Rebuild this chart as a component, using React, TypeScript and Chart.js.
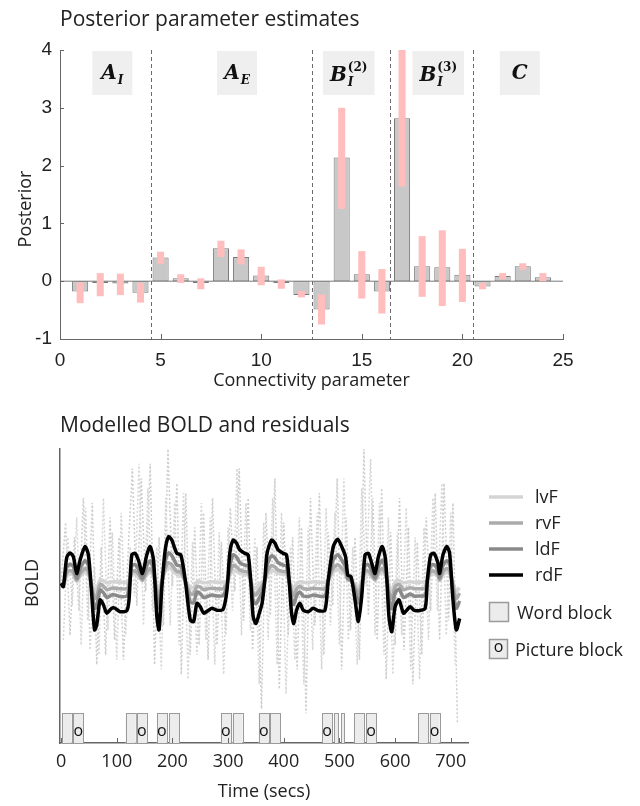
import React, { useEffect, useRef } from "react";
import { Chart, registerables } from "chart.js";

Chart.register(...registerables);

// ---------------- Top panel: posterior parameter estimates ----------------
const paramIndex = [1, 2, 3, 4, 5, 6, 7, 8, 9, 10, 11, 12, 13, 14, 15, 16, 17, 18, 19, 20, 21, 22, 23, 24];
const posteriorMean = [-0.18, -0.03, -0.04, -0.2, 0.41, 0.05, -0.03, 0.57, 0.42, 0.1, -0.03, -0.24, -0.49, 2.14, 0.12, -0.18, 2.82, 0.26, 0.24, 0.11, -0.09, 0.09, 0.26, 0.07];
const ciLow = [-0.38, -0.26, -0.24, -0.37, 0.3, -0.03, -0.14, 0.42, 0.29, -0.07, -0.13, -0.28, -0.75, 1.25, -0.3, -0.56, 1.64, -0.27, -0.43, -0.36, -0.14, 0.03, 0.2, 0.0];
const ciHigh = [-0.02, 0.14, 0.13, -0.03, 0.51, 0.12, 0.05, 0.7, 0.55, 0.25, 0.03, -0.17, -0.23, 3.0, 0.52, 0.21, 4.2, 0.78, 0.88, 0.56, -0.03, 0.14, 0.31, 0.14];
const groupBoundaries = [4.5, 12.5, 16.4, 20.55];
const groupCenter = [2.6, 8.8, 14.35, 18.8, 22.85];
const groupBase = ["A", "A", "B", "B", "C"];
const groupSub = ["I", "E", "I", "I", ""];
const groupSup = ["", "", "(2)", "(3)", ""];
const paramAxisRange = [0, 25];
const posteriorAxisRange = [-1, 4];

// ---------------- Bottom panel: modelled BOLD and residuals ----------------
const boldTime = [0, 4, 10, 16, 22, 28, 34, 43, 49, 54, 60, 64, 70, 76, 82, 91, 97, 106, 118, 122, 127, 133, 139, 146, 154, 160, 166, 172, 176, 181, 187, 193, 199, 203, 208, 215, 223, 232, 238, 244, 250, 256, 265, 271, 280, 291, 298, 303, 309, 315, 321, 330, 336, 341, 345, 350, 356, 361, 366, 370, 378, 384, 390, 399, 405, 410, 414, 418, 423, 429, 435, 444, 453, 462, 474, 480, 489, 497, 504, 511, 515, 521, 528, 534, 540, 546, 552, 558, 564, 570, 577, 583, 589, 594, 600, 607, 615, 621, 627, 634, 642, 654, 658, 664, 670, 677, 680, 686, 693, 698, 704, 710, 716];
const rdF = [0.26, 0.19, 0.78, 0.88, 0.8, 0.46, 0.73, 1.01, 0.84, 0.19, -0.69, -0.59, -0.08, -0.18, -0.35, -0.25, -0.25, -0.32, -0.3, -0.08, 0.84, 0.87, 0.73, 0.46, 0.84, 1.01, 0.73, -0.42, -0.69, 0.19, 0.94, 1.21, 1.14, 1.01, 0.87, 0.84, 0.33, -0.49, -0.52, -0.15, -0.22, -0.35, -0.29, -0.25, -0.29, -0.27, 0.12, 0.87, 1.14, 1.08, 0.94, 0.87, 0.84, 0.26, -0.42, -0.56, -0.35, -0.15, 0.33, 0.87, 1.14, 1.08, 0.94, 0.87, 0.84, 0.26, -0.35, -0.56, -0.29, -0.15, -0.29, -0.32, -0.25, -0.3, -0.29, 0.33, 1.01, 1.16, 1.01, 0.8, 0.43, 0.39, -0.08, -0.52, -0.01, 0.84, 0.87, 0.67, 0.46, 0.8, 1.01, 0.73, -0.42, -0.73, -0.22, -0.08, -0.35, -0.29, -0.22, -0.29, -0.3, -0.25, 0.33, 0.84, 0.87, 0.67, 0.46, 0.84, 1.01, 0.87, -0.08, -0.69, -0.46];
const ldF = [0.26, 0.2, 0.58, 0.65, 0.6, 0.36, 0.55, 0.72, 0.62, 0.22, -0.25, -0.2, 0.12, 0.07, -0.03, 0.02, 0.02, -0.01, 0.0, 0.14, 0.62, 0.64, 0.55, 0.36, 0.62, 0.72, 0.55, -0.05, -0.24, 0.25, 0.7, 0.88, 0.82, 0.74, 0.63, 0.61, 0.3, -0.12, -0.14, 0.08, 0.05, -0.03, 0.0, 0.02, 0.0, 0.01, 0.22, 0.6, 0.84, 0.8, 0.68, 0.63, 0.61, 0.27, -0.09, -0.16, -0.04, 0.08, 0.32, 0.62, 0.82, 0.78, 0.68, 0.63, 0.61, 0.27, -0.05, -0.17, 0.0, 0.08, 0.0, -0.01, 0.02, 0.0, 0.0, 0.32, 0.74, 0.84, 0.74, 0.59, 0.36, 0.33, 0.1, -0.14, 0.17, 0.62, 0.64, 0.52, 0.37, 0.6, 0.73, 0.55, -0.06, -0.26, 0.06, 0.14, -0.03, 0.0, 0.04, 0.0, 0.0, 0.02, 0.32, 0.62, 0.64, 0.52, 0.37, 0.62, 0.72, 0.64, 0.12, -0.25, -0.1];
const rvF = [0.26, 0.22, 0.48, 0.52, 0.48, 0.32, 0.45, 0.56, 0.5, 0.24, -0.05, 0.0, 0.24, 0.2, 0.13, 0.16, 0.16, 0.15, 0.15, 0.24, 0.5, 0.51, 0.45, 0.32, 0.49, 0.56, 0.45, 0.1, -0.03, 0.3, 0.56, 0.68, 0.63, 0.57, 0.5, 0.49, 0.3, 0.05, 0.04, 0.2, 0.18, 0.13, 0.15, 0.16, 0.15, 0.15, 0.26, 0.48, 0.62, 0.6, 0.53, 0.5, 0.49, 0.28, 0.07, 0.02, 0.12, 0.2, 0.32, 0.49, 0.62, 0.59, 0.53, 0.5, 0.49, 0.28, 0.1, 0.01, 0.14, 0.2, 0.15, 0.14, 0.16, 0.15, 0.15, 0.32, 0.57, 0.64, 0.57, 0.48, 0.33, 0.31, 0.18, 0.04, 0.25, 0.5, 0.51, 0.43, 0.33, 0.48, 0.56, 0.45, 0.09, -0.05, 0.19, 0.24, 0.13, 0.15, 0.17, 0.15, 0.15, 0.16, 0.32, 0.5, 0.51, 0.43, 0.33, 0.49, 0.56, 0.51, 0.22, -0.05, 0.06];
const lvF = [0.26, 0.24, 0.42, 0.46, 0.43, 0.3, 0.4, 0.49, 0.44, 0.25, 0.1, 0.14, 0.33, 0.31, 0.27, 0.29, 0.29, 0.28, 0.28, 0.32, 0.44, 0.45, 0.41, 0.31, 0.43, 0.48, 0.41, 0.22, 0.12, 0.33, 0.5, 0.58, 0.54, 0.49, 0.44, 0.43, 0.31, 0.18, 0.17, 0.29, 0.29, 0.27, 0.28, 0.29, 0.28, 0.28, 0.31, 0.42, 0.52, 0.5, 0.46, 0.44, 0.43, 0.3, 0.19, 0.16, 0.24, 0.29, 0.33, 0.43, 0.52, 0.5, 0.46, 0.44, 0.43, 0.3, 0.21, 0.15, 0.25, 0.29, 0.28, 0.27, 0.29, 0.28, 0.28, 0.33, 0.49, 0.54, 0.49, 0.43, 0.33, 0.32, 0.25, 0.17, 0.31, 0.44, 0.45, 0.4, 0.32, 0.43, 0.48, 0.41, 0.21, 0.11, 0.29, 0.32, 0.27, 0.28, 0.29, 0.28, 0.28, 0.29, 0.33, 0.44, 0.45, 0.4, 0.32, 0.43, 0.48, 0.45, 0.28, 0.1, 0.17];

const residualTimeA = [0, 8, 16, 24, 32, 40, 48, 56, 64, 72, 80, 88, 96, 104, 112, 120, 128, 136, 144, 152, 160, 168, 176, 184, 192, 200, 208, 216, 224, 232, 240, 248, 256, 264, 272, 280, 288, 296, 304, 312, 320, 328, 336, 344, 352, 360, 368, 376, 384, 392, 400, 408, 416, 424, 432, 440, 448, 456, 464, 472, 480, 488, 496, 504, 512, 520, 528, 536, 544, 552, 560, 568, 576, 584, 592, 600, 608, 616, 624, 632, 640, 648, 656, 664, 672, 680, 688, 696, 704, 712];
const residualA = [0.3, 1.5, -0.8, 1.2, -0.3, 2.0, -0.5, 1.9, -1.4, 1.0, -1.2, 1.6, -0.9, 1.2, -1.3, 0.8, 2.6, -0.2, 2.4, 0.1, 2.7, -1.4, 1.2, -0.6, 3.0, 0.2, 2.3, -1.6, 2.1, -1.2, 1.4, -1.0, 1.7, -1.3, 2.0, -1.0, 1.1, -0.8, 1.8, 0.1, 2.6, -0.5, 2.0, -1.1, 1.0, -2.3, 1.7, -0.4, 2.4, -1.9, 1.5, -0.8, 1.2, -1.5, 1.4, -2.4, 2.0, -0.6, 2.1, -1.2, 1.3, -0.2, 2.4, -1.5, 1.6, -0.7, 1.2, -1.3, 3.0, -0.4, 2.0, -0.9, 2.2, -1.7, 1.3, -1.0, 2.0, -1.1, 1.4, -1.8, 1.1, -1.2, 1.6, -0.3, 2.1, -0.9, 2.3, -0.5, 1.9, -2.6];
const residualTimeB = [4, 12, 20, 28, 36, 44, 52, 60, 68, 76, 84, 92, 100, 108, 116, 124, 132, 140, 148, 156, 164, 172, 180, 188, 196, 204, 212, 220, 228, 236, 244, 252, 260, 268, 276, 284, 292, 300, 308, 316, 324, 332, 340, 348, 356, 364, 372, 380, 388, 396, 404, 412, 420, 428, 436, 444, 452, 460, 468, 476, 484, 492, 500, 508, 516, 524, 532, 540, 548, 556, 564, 572, 580, 588, 596, 604, 612, 620, 628, 636, 644, 652, 660, 668, 676, 684, 692, 700, 708];
const residualB = [-0.9, 1.2, -0.2, 1.6, -1.0, 1.8, -1.1, 0.6, -1.2, 2.0, -0.7, 1.3, -1.3, 1.7, -0.8, 1.0, 0.0, 2.7, -0.6, 2.2, -0.3, 1.0, -1.5, 2.0, -0.6, 1.9, -1.0, 2.1, -1.7, 1.1, -1.2, 1.9, -0.9, 1.6, -1.4, 1.3, -1.6, 1.4, -0.3, 2.6, -0.8, 1.9, -0.7, 1.2, -1.8, 1.5, -0.9, 2.0, -1.4, 1.7, -2.0, 1.0, -1.3, 1.6, -1.8, 1.4, -1.1, 1.7, -1.5, 1.8, -0.6, 1.7, -1.0, 2.4, -0.9, 1.0, -1.4, 2.2, 0.2, 2.8, -0.8, 1.9, -1.2, 1.6, -1.6, 1.3, -0.8, 1.8, -1.5, 1.2, -1.7, 1.4, -0.9, 2.0, -0.3, 2.3, -0.8, 1.7, -1.4];

const blockStart = [1, 22, 116, 136, 172, 194, 287, 308, 355, 376, 469, 491, 503, 526, 548, 641, 662];
const blockEnd = [19, 40, 134, 154, 190, 212, 305, 326, 373, 394, 487, 499, 509, 544, 566, 659, 680];
const blockKind = ["word", "picture", "word", "picture", "picture", "word", "picture", "word", "picture", "word", "picture", "word", "word", "word", "picture", "word", "picture"];
const timeTicks = [0, 100, 200, 300, 400, 500, 600, 700];
const timeAxisRange = [-2, 731];
const boldAxisRange = [-3, 3];
const regionNames = ["lvF", "rvF", "ldF", "rdF"];

// ---------------- Styling ----------------
const SANS = '"Open Sans", "Noto Sans", sans-serif';
const ARIAL = '"Liberation Sans", Arial, sans-serif';
const TEXT = "#222222";
const AXIS = "#666666";
const regionColors = ["#d4d4d4", "#ababab", "#8a8a8a", "#000000"];
const regionWidths = [3.5, 3.5, 3.5, 3.5];

function drawMathLabel(ctx: CanvasRenderingContext2D, cx: number, cy: number, base: string, sub: string, sup: string) {
  const baseFont = 'bold italic 20px "DejaVu Serif", serif';
  const smallFont = 'bold italic 12px "DejaVu Serif", serif';
  const supFont = 'bold 12px "DejaVu Serif", serif';
  ctx.font = baseFont;
  const wb = ctx.measureText(base).width;
  ctx.font = smallFont;
  const ws = sub ? ctx.measureText(sub).width : 0;
  ctx.font = supFont;
  const wp = sup ? ctx.measureText(sup).width : 0;
  const total = wb + Math.max(ws, wp) + (sub || sup ? 1 : 0);
  const boxW = Math.max(40, total + 14);
  ctx.fillStyle = "#efefef";
  ctx.fillRect(cx - boxW / 2, cy - 22, boxW, 44);
  const x0 = cx - total / 2;
  const baseLine = sup ? cy + 8 : cy + 6;
  ctx.fillStyle = "#111";
  ctx.textAlign = "left";
  ctx.textBaseline = "alphabetic";
  ctx.font = baseFont;
  ctx.fillText(base, x0, baseLine);
  if (sub) {
    ctx.font = smallFont;
    ctx.fillText(sub, x0 + wb + 1, baseLine + 5);
  }
  if (sup) {
    ctx.font = supFont;
    ctx.fillText(sup, x0 + wb + 1, baseLine - 10);
  }
}

const topPanelPlugin = {
  id: "topPanel",
  afterDatasetsDraw(chart: any) {
    const { ctx, chartArea, scales } = chart;
    const xs = scales.x;
    ctx.save();
    ctx.strokeStyle = "#6a6a6a";
    ctx.lineWidth = 1;
    ctx.setLineDash([4, 3]);
    groupBoundaries.forEach((b) => {
      const px = Math.round(xs.getPixelForValue(b)) + 0.5;
      ctx.beginPath();
      ctx.moveTo(px, chartArea.top);
      ctx.lineTo(px, chartArea.bottom);
      ctx.stroke();
    });
    ctx.setLineDash([]);
    groupCenter.forEach((c, i) => {
      drawMathLabel(ctx, xs.getPixelForValue(c), chartArea.top + 23, groupBase[i], groupSub[i], groupSup[i]);
    });
    ctx.restore();
  },
  afterDraw(chart: any) {
    const { ctx, chartArea, scales } = chart;
    const xs = scales.x;
    const ys = scales.y;
    ctx.save();
    ctx.strokeStyle = AXIS;
    ctx.lineWidth = 1;
    ys.ticks.forEach((t: any) => {
      const py = Math.round(ys.getPixelForValue(t.value)) + 0.5;
      ctx.beginPath();
      ctx.moveTo(chartArea.left, py);
      ctx.lineTo(chartArea.left + 4, py);
      ctx.stroke();
    });
    xs.ticks.forEach((t: any) => {
      const px = Math.round(xs.getPixelForValue(t.value)) + 0.5;
      ctx.beginPath();
      ctx.moveTo(px, chartArea.bottom);
      ctx.lineTo(px, chartArea.bottom - 5);
      ctx.stroke();
    });
    ctx.fillStyle = TEXT;
    ctx.font = `21px ${SANS}`;
    ctx.textAlign = "left";
    ctx.textBaseline = "alphabetic";
    ctx.fillText("Posterior parameter estimates", 60, 26);
    ctx.font = `18px ${SANS}`;
    ctx.textAlign = "center";
    ctx.textBaseline = "middle";
    ctx.fillText("Connectivity parameter", (chartArea.left + chartArea.right) / 2, 381);
    ctx.translate(26, 209);
    ctx.rotate(-Math.PI / 2);
    ctx.fillText("Posterior", 0, 0);
    ctx.restore();
  },
};

const boldPanelPlugin = {
  id: "boldPanel",
  afterDatasetsDraw(chart: any) {
    const { ctx, chartArea, scales } = chart;
    const xs = scales.x;
    ctx.save();
    const top = chartArea.bottom - 30;
    blockStart.forEach((s, i) => {
      const x1 = xs.getPixelForValue(s);
      const x2 = xs.getPixelForValue(blockEnd[i]);
      ctx.fillStyle = "#ececec";
      ctx.fillRect(x1, top, x2 - x1, 30);
      ctx.strokeStyle = "#9a9a9a";
      ctx.lineWidth = 1;
      ctx.strokeRect(Math.round(x1) + 0.5, Math.round(top) + 0.5, Math.round(x2 - x1), 30);
      if (blockKind[i] === "picture") {
        ctx.fillStyle = "#111";
        ctx.font = `16px ${SANS}`;
        ctx.textAlign = "center";
        ctx.textBaseline = "middle";
        ctx.fillText("o", (x1 + x2) / 2, top + 18);
      }
    });
    ctx.restore();
  },
  afterDraw(chart: any) {
    const { ctx, chartArea, scales } = chart;
    const xs = scales.x;
    ctx.save();
    ctx.strokeStyle = AXIS;
    ctx.lineWidth = 1;
    xs.ticks.forEach((t: any) => {
      const px = Math.round(xs.getPixelForValue(t.value)) + 0.5;
      ctx.beginPath();
      ctx.moveTo(px, chartArea.bottom);
      ctx.lineTo(px, chartArea.bottom - 5);
      ctx.stroke();
    });
    ctx.fillStyle = TEXT;
    ctx.font = `21px ${SANS}`;
    ctx.textAlign = "left";
    ctx.textBaseline = "alphabetic";
    ctx.fillText("Modelled BOLD and residuals", 60, 32);
    ctx.font = `18px ${SANS}`;
    ctx.textAlign = "center";
    ctx.textBaseline = "middle";
    ctx.fillText("Time (secs)", (chartArea.left + chartArea.right) / 2, 392);
    ctx.save();
    ctx.translate(33, 183);
    ctx.rotate(-Math.PI / 2);
    ctx.fillText("BOLD", 0, 0);
    ctx.restore();
    const legendY = [97, 123, 149, 175];
    regionNames.forEach((name, i) => {
      ctx.strokeStyle = regionColors[i];
      ctx.lineWidth = regionWidths[i];
      ctx.beginPath();
      ctx.moveTo(489, legendY[i]);
      ctx.lineTo(523, legendY[i]);
      ctx.stroke();
      ctx.fillStyle = TEXT;
      ctx.font = `18px ${SANS}`;
      ctx.textAlign = "left";
      ctx.textBaseline = "middle";
      ctx.fillText(name, 535, legendY[i] + 1);
    });
    ctx.fillStyle = "#ececec";
    ctx.fillRect(489, 202, 20, 20);
    ctx.strokeStyle = "#9a9a9a";
    ctx.lineWidth = 1.5;
    ctx.strokeRect(489.5, 202.5, 19, 19);
    ctx.fillStyle = TEXT;
    ctx.fillText("Word block", 517, 214);
    ctx.fillStyle = "#ececec";
    ctx.fillRect(489, 239, 18, 20);
    ctx.strokeRect(489.5, 239.5, 18, 19);
    ctx.fillStyle = "#111";
    ctx.font = `16px ${SANS}`;
    ctx.textAlign = "center";
    ctx.fillText("o", 498.5, 247);
    ctx.fillStyle = TEXT;
    ctx.font = `18px ${SANS}`;
    ctx.textAlign = "left";
    ctx.fillText("Picture block", 515, 251);
    ctx.restore();
  },
};

export default function App() {
  const topRef = useRef<HTMLCanvasElement | null>(null);
  const botRef = useRef<HTMLCanvasElement | null>(null);

  useEffect(() => {
    const top = new Chart(topRef.current as HTMLCanvasElement, {
      type: "bar",
      data: {
        datasets: [
          {
            type: "bar",
            label: "95% interval",
            data: paramIndex.map((x, i) => ({ x, y: [ciLow[i], ciHigh[i]] })) as any,
            backgroundColor: "#ffbdbd",
            borderWidth: 0,
            barPercentage: 0.35,
            categoryPercentage: 1,
            grouped: false,
            order: 0,
          } as any,
          {
            type: "bar",
            label: "Posterior",
            data: paramIndex.map((x, i) => ({ x, y: posteriorMean[i] })) as any,
            backgroundColor: "#c8c8c8",
            borderColor: "#7a7a7a",
            borderWidth: 1,
            borderSkipped: false,
            barPercentage: 0.8,
            categoryPercentage: 1,
            grouped: false,
            order: 1,
          } as any,
          {
            type: "line",
            label: "baseline",
            data: [
              { x: paramAxisRange[0], y: 0 },
              { x: paramAxisRange[1], y: 0 },
            ],
            borderColor: "#7a7a7a",
            borderWidth: 1,
            pointRadius: 0,
            order: 2,
          } as any,
        ],
      },
      options: {
        animation: false,
        responsive: false,
        maintainAspectRatio: false,
        layout: { padding: { left: 0, top: 50, right: 77, bottom: 0 } },
        plugins: { legend: { display: false }, tooltip: { enabled: false }, title: { display: false } },
        scales: {
          x: {
            type: "linear",
            offset: false,
            min: paramAxisRange[0],
            max: paramAxisRange[1],
            ticks: { stepSize: 5, color: TEXT, font: { family: ARIAL, size: 19 }, padding: 10, maxRotation: 0 },
            grid: { display: false, drawTicks: false, offset: false },
            border: { display: true, color: AXIS, width: 1 },
            afterFit: (s: any) => {
              s.height = 61;
            },
          },
          y: {
            type: "linear",
            min: posteriorAxisRange[0],
            max: posteriorAxisRange[1],
            ticks: { stepSize: 1, color: TEXT, font: { family: ARIAL, size: 19 }, padding: 8 },
            grid: { display: false, drawTicks: false },
            border: { display: true, color: AXIS, width: 1 },
            afterFit: (s: any) => {
              s.width = 60;
            },
          },
        },
      } as any,
      plugins: [topPanelPlugin],
    });

    const lineSet = (label: string, values: number[], i: number) => ({
      type: "line",
      label,
      data: boldTime.map((t, k) => ({ x: t, y: values[k] })),
      borderColor: regionColors[i],
      borderWidth: regionWidths[i],
      pointRadius: 0,
      tension: 0.25,
      order: 4 - i,
    });

    const bot = new Chart(botRef.current as HTMLCanvasElement, {
      type: "line",
      data: {
        datasets: [
          {
            label: "residual A",
            data: residualTimeA.map((t, k) => ({ x: t, y: residualA[k] })),
            borderColor: "#cdcdcd",
            borderWidth: 1.5,
            borderDash: [2, 2],
            pointRadius: 0,
            order: 10,
          },
          {
            label: "residual B",
            data: residualTimeB.map((t, k) => ({ x: t, y: residualB[k] })),
            borderColor: "#d6d6d6",
            borderWidth: 1.5,
            borderDash: [2, 2],
            pointRadius: 0,
            order: 9,
          },
          lineSet("lvF", lvF, 0),
          lineSet("rvF", rvF, 1),
          lineSet("ldF", ldF, 2),
          lineSet("rdF", rdF, 3),
        ] as any,
      },
      options: {
        animation: false,
        responsive: false,
        maintainAspectRatio: false,
        layout: { padding: { left: 0, top: 49, right: 172, bottom: 0 } },
        plugins: { legend: { display: false }, tooltip: { enabled: false }, title: { display: false } },
        scales: {
          x: {
            type: "linear",
            min: timeAxisRange[0],
            max: timeAxisRange[1],
            afterBuildTicks: (s: any) => {
              s.ticks = timeTicks.map((v) => ({ value: v }));
            },
            ticks: { color: TEXT, font: { family: SANS, size: 18 }, padding: 8, maxRotation: 0, autoSkip: false },
            grid: { display: false, drawTicks: false },
            border: { display: true, color: AXIS, width: 1.5 },
            afterFit: (s: any) => {
              s.height = 63;
            },
          },
          y: {
            type: "linear",
            min: boldAxisRange[0],
            max: boldAxisRange[1],
            ticks: { display: false },
            grid: { display: false, drawTicks: false },
            border: { display: true, color: AXIS, width: 1.5 },
            afterFit: (s: any) => {
              s.width = 60;
            },
          },
        },
      } as any,
      plugins: [boldPanelPlugin],
    });

    return () => {
      top.destroy();
      bot.destroy();
    };
  }, []);

  return (
    <div style={{ position: "fixed", left: 0, top: 0, width: 640, height: 806, background: "#fff" }}>
      <canvas ref={topRef} width={640} height={400} style={{ position: "absolute", left: 0, top: 0, width: 640, height: 400 }} />
      <canvas ref={botRef} width={640} height={406} style={{ position: "absolute", left: 0, top: 400, width: 640, height: 406 }} />
    </div>
  );
}
